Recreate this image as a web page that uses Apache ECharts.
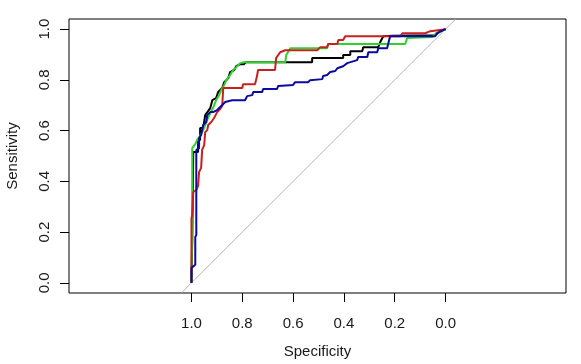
<!DOCTYPE html>
<html>
<head>
<meta charset="utf-8">
<script src="https://cdn.jsdelivr.net/npm/echarts@6/dist/echarts.min.js"></script>
<style>
html,body{margin:0;padding:0;background:#fff;}
#chart{width:581px;height:364px;}
</style>
</head>
<body>
<div id="chart"></div>
<script>
// tick labels
const tickValues = [0, 0.2, 0.4, 0.6, 0.8, 1.0];

// ROC curves: [specificity, sensitivity]
const blackCurve = [
  [1.0,0],[0.997,0.169],[0.993,0.169],[0.993,0.516],[0.974,0.516],[0.974,0.563],
  [0.966,0.563],[0.966,0.610],[0.954,0.610],[0.946,0.661],[0.926,0.689],[0.918,0.720],
  [0.903,0.728],[0.895,0.752],[0.879,0.768],[0.871,0.791],[0.855,0.807],[0.848,0.831],
  [0.832,0.839],[0.824,0.854],[0.808,0.862],[0.793,0.862],[0.785,0.870],[0.525,0.870],
  [0.525,0.886],[0.403,0.886],[0.403,0.898],[0.375,0.898],[0.375,0.913],[0.328,0.913],
  [0.324,0.929],[0.265,0.929],[0.257,0.949],[0.245,0.972],[0.210,0.974],[0.041,0.976],
  [0.021,0.992],[0,1]
];
const greenCurve = [
  [1.0,0],[0.997,0.209],[0.997,0.531],[0.985,0.547],[0.978,0.563],[0.966,0.579],
  [0.954,0.602],[0.938,0.642],[0.930,0.661],[0.915,0.689],[0.903,0.720],[0.891,0.740],
  [0.883,0.760],[0.871,0.780],[0.863,0.799],[0.848,0.819],[0.836,0.839],[0.824,0.850],
  [0.808,0.866],[0.793,0.870],[0.631,0.870],[0.627,0.898],[0.611,0.925],[0.466,0.925],
  [0.462,0.941],[0.159,0.941],[0.151,0.965],[0.052,0.969],[0.037,0.984],[0,1]
];
const redCurve = [
  [1.0,0],[1.0,0.256],[0.997,0.268],[0.993,0.358],[0.981,0.366],[0.974,0.382],
  [0.970,0.437],[0.962,0.453],[0.958,0.524],[0.950,0.543],[0.946,0.594],[0.938,0.602],
  [0.934,0.622],[0.922,0.634],[0.911,0.650],[0.899,0.673],[0.887,0.685],[0.879,0.697],
  [0.875,0.768],[0.800,0.768],[0.797,0.783],[0.750,0.783],[0.742,0.815],[0.738,0.839],
  [0.671,0.839],[0.667,0.886],[0.651,0.909],[0.631,0.917],[0.505,0.917],[0.493,0.929],
  [0.466,0.929],[0.462,0.941],[0.426,0.941],[0.422,0.957],[0.403,0.957],[0.395,0.972],
  [0.178,0.972],[0.170,0.984],[0.080,0.984],[0.060,0.992],[0,1]
];
const blueCurve = [
  [1.0,0],[1.0,0.059],[0.985,0.071],[0.985,0.181],[0.981,0.189],[0.981,0.524],
  [0.970,0.531],[0.970,0.571],[0.962,0.583],[0.954,0.622],[0.942,0.634],[0.938,0.661],
  [0.926,0.673],[0.915,0.673],[0.899,0.681],[0.879,0.701],[0.867,0.713],[0.840,0.720],
  [0.789,0.720],[0.781,0.736],[0.761,0.740],[0.757,0.752],[0.722,0.752],
  [0.718,0.764],[0.663,0.764],[0.659,0.776],[0.600,0.780],[0.592,0.791],[0.541,0.791],
  [0.533,0.799],[0.485,0.803],[0.482,0.815],[0.466,0.819],[0.454,0.831],[0.434,0.835],
  [0.426,0.846],[0.403,0.854],[0.387,0.866],[0.348,0.878],[0.344,0.890],[0.308,0.890],
  [0.304,0.909],[0.269,0.909],[0.265,0.925],[0.230,0.925],[0.222,0.957],[0.218,0.972],
  [0.041,0.972],[0.033,0.984],[0.009,0.996],[0,1]
];
// chance diagonal (sens = 1 - spec), spanning the plot region
const diagonal = [[1.04,-0.04],[-0.04,1.04]];

const FONT = 'Liberation Sans, Arial, sans-serif';
const TXT = '#1a1a1a';

const chart = echarts.init(document.getElementById('chart'), null, {renderer:'canvas'});

function lineSeries(data, color, width){
  return {type:'line', data:data, showSymbol:false, symbol:'none', silent:true,
    animation:false, lineStyle:{color:color, width:width}, z:3};
}

chart.setOption({
  animation:false,
  backgroundColor:'#ffffff',
  grid:{left:69, right:15, top:19, bottom:71, show:true, borderColor:'#000', borderWidth:1,
    containLabel:false, outerBoundsMode:'none'},
  xAxis:{
    type:'value', min:-0.474, max:1.482, inverse:true,
    axisLine:{show:false, onZero:false}, splitLine:{show:false},
    axisTick:{show:true, customValues:tickValues, length:9, lineStyle:{color:'#000', width:1}},
    axisLabel:{customValues:tickValues, formatter:v=>v.toFixed(1), margin:23,
      fontSize:15, color:TXT, fontFamily:FONT},
    name:'Specificity', nameLocation:'middle', nameGap:51,
    nameTextStyle:{fontSize:15, color:TXT, fontFamily:FONT}
  },
  yAxis:{
    type:'value', min:-0.04, max:1.04,
    axisLine:{show:false, onZero:false}, splitLine:{show:false},
    axisTick:{show:true, customValues:tickValues, length:9, lineStyle:{color:'#000', width:1}},
    axisLabel:{customValues:tickValues, formatter:v=>v.toFixed(1), margin:17, rotate:90,
      fontSize:15, color:TXT, fontFamily:FONT},
    name:'Sensitivity', nameLocation:'middle', nameGap:49,
    nameTextStyle:{fontSize:15, color:TXT, fontFamily:FONT}
  },
  series:[
    {type:'line', data:diagonal, showSymbol:false, symbol:'none', silent:true,
      lineStyle:{color:'#b4b4b4', width:1}, z:2},
    lineSeries(blackCurve, '#000000', 2),
    lineSeries(greenCurve, '#2ed22e', 2),
    lineSeries(redCurve, '#c8201e', 2),
    lineSeries(blueCurve, '#0a0aa0', 2)
  ]
});
</script>
</body>
</html>
